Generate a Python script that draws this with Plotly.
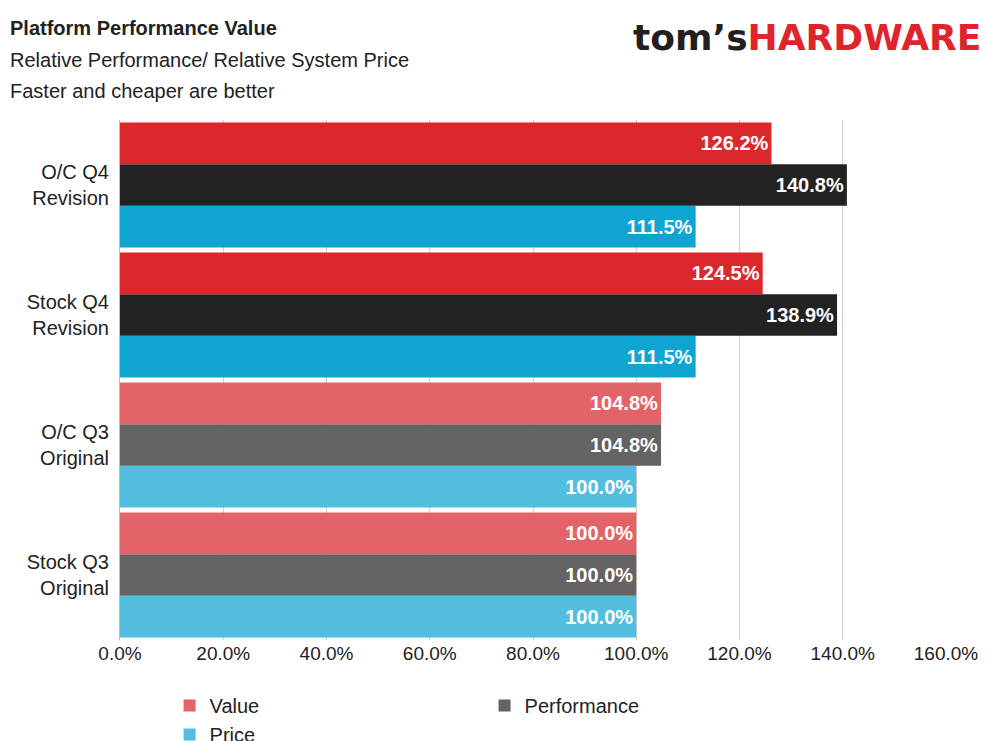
import plotly.graph_objects as go

# dados (de baixo para cima)
categorias = ['Stock Q3<br>Original', 'O/C Q3<br>Original', 'Stock Q4<br>Revision', 'O/C Q4<br>Revision']
valor = [100.0, 104.8, 124.5, 126.2]
desempenho = [100.0, 104.8, 138.9, 140.8]
preco = [100.0, 100.0, 111.5, 111.5]

cores_valor = ['#E36468', '#E36468', '#DC282D', '#DC282D']
cores_desempenho = ['#646262', '#646262', '#222222', '#222222']
cores_preco = ['#52BFE0', '#52BFE0', '#0EA5D3', '#0EA5D3']

fig = go.Figure()
for nome, vals, cores in [('Price', preco, cores_preco),
                          ('Performance', desempenho, cores_desempenho),
                          ('Value', valor, cores_valor)]:
    fig.add_trace(go.Bar(
        y=categorias, x=vals, name=nome, orientation='h',
        marker=dict(color=cores, line=dict(width=0)),
        text=[f'{v:.1f}%' for v in vals], textposition='inside',
        insidetextanchor='end',
        textfont=dict(color='white', size=20, family='Liberation Sans'),
        texttemplate='<b>%{text}</b>'
    ))

fig.update_layout(
    width=989, height=741,
    barmode='group', bargap=0.04, bargroupgap=0,
    plot_bgcolor='white', paper_bgcolor='white',
    margin=dict(l=112, r=51, t=112, b=109, autoexpand=False),
    font=dict(family='Liberation Sans', size=19, color='#222222'),
    xaxis=dict(range=[0, 160], dtick=20, tickformat='.1f', ticksuffix='%',
               showgrid=True, gridcolor='#D0D0D0', zeroline=False,
               tickfont=dict(size=19), ticks='', showline=False),
    yaxis=dict(showline=True, linecolor='#BFBFBF', ticks='', tickfont=dict(size=20),
               ticklabelstandoff=6),
    legend=dict(orientation='h', traceorder='reversed', x=0.06, y=-0.154,
                xanchor='left', yanchor='middle', entrywidth=270,
                font=dict(size=20)),
    uniformtext=dict(mode='show', minsize=10),
)

fig.add_annotation(xref='paper', yref='paper', x=-0.136, y=1.177, xanchor='left', yanchor='middle',
                   text='<b>Platform Performance Value</b>', showarrow=False, font=dict(size=20))
fig.add_annotation(xref='paper', yref='paper', x=-0.136, y=1.115, xanchor='left', yanchor='middle',
                   text='Relative Performance/ Relative System Price', showarrow=False, font=dict(size=20))
fig.add_annotation(xref='paper', yref='paper', x=-0.136, y=1.056, xanchor='left', yanchor='middle',
                   text='Faster and cheaper are better', showarrow=False, font=dict(size=20))
fig.add_annotation(xref='paper', yref='paper', x=1.045, y=1.158, xanchor='right', yanchor='middle',
                   text="<b><span style='color:#231F20'>tom’s</span><span style='color:#E0242B'>HARDWARE</span></b>",
                   showarrow=False, font=dict(size=36, family='DejaVu Sans'))

fig.write_html('out.html')
